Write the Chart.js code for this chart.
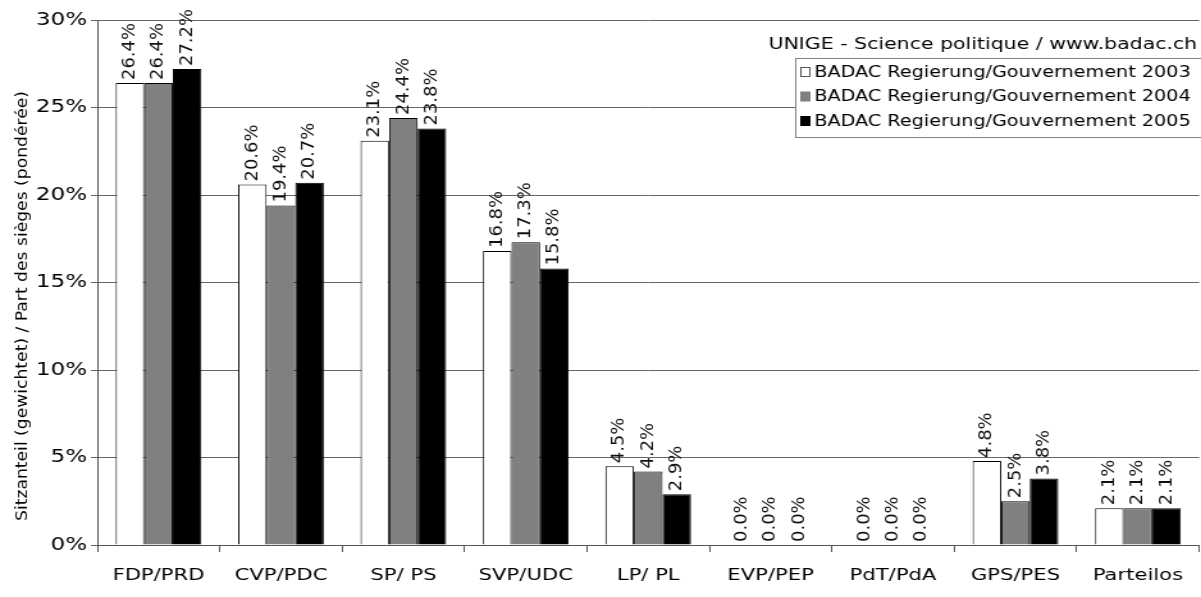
<!DOCTYPE html>
<html>
<head>
<meta charset="utf-8">
<script src="https://cdn.jsdelivr.net/npm/chart.js@4.4.0/dist/chart.umd.min.js"></script>
<style>
  html, body { margin: 0; padding: 0; background: #fff; overflow: hidden; }
  /* the original picture is stretched sideways, so draw narrower and stretch */
  #wrap { width: 938px; height: 597px; transform: scaleX(1.2804); transform-origin: 0 0; }
</style>
</head>
<body>
<div id="wrap"><canvas id="chart"></canvas></div>
<script>
// data
const parties = ['FDP/PRD', 'CVP/PDC', 'SP/ PS', 'SVP/UDC', 'LP/ PL', 'EVP/PEP', 'PdT/PdA', 'GPS/PES', 'Parteilos'];
const seats2003 = [26.4, 20.6, 23.1, 16.8, 4.5, 0.0, 0.0, 4.8, 2.1];
const seats2004 = [26.4, 19.4, 24.4, 17.3, 4.2, 0.0, 0.0, 2.5, 2.1];
const seats2005 = [27.2, 20.7, 23.8, 15.8, 2.9, 0.0, 0.0, 3.8, 2.1];
const seriesNames = [
    'BADAC Regierung/Gouvernement 2003',
    'BADAC Regierung/Gouvernement 2004',
    'BADAC Regierung/Gouvernement 2005'
];
const yTicks = [0, 5, 10, 15, 20, 25, 30];
const sourceNote = 'UNIGE - Science politique / www.badac.ch';
const yTitle = 'Sitzanteil (gewichtet) / Part des sièges (pondérée)';

const FONT = '"DejaVu Sans", Verdana, sans-serif';
const fills = ['#ffffff', '#808080', '#000000'];

// rotated value labels above each bar
const barLabels = {
    id: 'barLabels',
    afterDatasetsDraw(chart) {
        const ctx = chart.ctx;
        ctx.save();
        ctx.font = '13.5px ' + FONT;
        ctx.fillStyle = '#111';
        ctx.textAlign = 'left';
        ctx.textBaseline = 'middle';
        chart.data.datasets.forEach((ds, i) => {
            chart.getDatasetMeta(i).data.forEach((bar, j) => {
                ctx.save();
                ctx.translate(bar.x, bar.y - 3);
                ctx.rotate(-Math.PI / 2);
                ctx.scale(1.33, 1);
                ctx.fillText(ds.data[j].toFixed(1) + '%', 0, 0);
                ctx.restore();
            });
        });
        ctx.restore();
    }
};

// y title, legend box and source note, drawn like the original
const extras = {
    id: 'extras',
    afterDraw(chart) {
        const ctx = chart.ctx;
        ctx.save();

        ctx.save();
        ctx.font = '13px ' + FONT;
        ctx.fillStyle = '#000';
        ctx.textAlign = 'center';
        ctx.textBaseline = 'middle';
        ctx.translate(17.5, 306);
        ctx.rotate(-Math.PI / 2);
        ctx.scale(1.32, 1);
        ctx.fillText(yTitle, 0, 0);
        ctx.restore();

        ctx.font = '16px ' + FONT;
        ctx.fillStyle = '#000';
        ctx.textAlign = 'right';
        ctx.textBaseline = 'middle';
        ctx.fillText(sourceNote, 935, 45);

        ctx.fillStyle = '#fff';
        ctx.fillRect(621.5, 58.5, 330, 79);
        ctx.strokeStyle = '#808080';
        ctx.lineWidth = 1;
        ctx.strokeRect(621.5, 58.5, 330, 79);

        ctx.font = '15px ' + FONT;
        ctx.textAlign = 'left';
        seriesNames.forEach((name, i) => {
            const y = 72 + i * 24.5;
            ctx.fillStyle = fills[i];
            ctx.fillRect(625.5, y - 4.5, 7, 9);
            ctx.strokeStyle = i === 0 ? '#555' : fills[i];
            ctx.strokeRect(625.5, y - 4.5, 7, 9);
            ctx.fillStyle = '#000';
            ctx.fillText(name, 636, y + 1);
        });
        ctx.restore();
    }
};

new Chart(document.getElementById('chart'), {
    type: 'bar',
    data: {
        labels: parties,
        datasets: [seats2003, seats2004, seats2005].map((vals, i) => ({
            label: seriesNames[i],
            data: vals,
            backgroundColor: fills[i],
            borderColor: '#000',
            borderWidth: 1,
            categoryPercentage: 0.7,
            barPercentage: 1.0
        }))
    },
    options: {
        responsive: true,
        maintainAspectRatio: false,
        animation: false,
        layout: { padding: { top: 20, right: 0, left: 0, bottom: 0 } },
        plugins: {
            legend: { display: false },
            tooltip: { enabled: false }
        },
        scales: {
            x: {
                grid: {
                    offset: true,
                    drawOnChartArea: false,
                    drawTicks: true,
                    tickLength: 7,
                    color: '#555'
                },
                border: { color: '#555' },
                ticks: {
                    color: '#000',
                    font: { family: FONT, size: 16.5 },
                    maxRotation: 0,
                    padding: 14
                },
                afterFit(scale) { scale.height = 52; }
            },
            y: {
                min: 0,
                max: 30,
                afterBuildTicks(scale) {
                    scale.ticks = yTicks.map(v => ({ value: v }));
                },
                grid: {
                    color: '#666',
                    tickLength: 5
                },
                border: { color: '#555' },
                ticks: {
                    color: '#000',
                    font: { family: FONT, size: 18 },
                    padding: 3,
                    callback: v => v + '%'
                },
                afterFit(scale) { scale.width = 76; }
            }
        }
    },
    plugins: [barLabels, extras]
});
</script>
</body>
</html>
